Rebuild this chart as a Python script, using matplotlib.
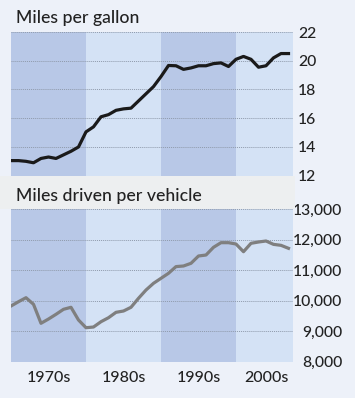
import matplotlib
matplotlib.use("Agg")
import matplotlib.pyplot as plt
from matplotlib import font_manager
from matplotlib.patches import Rectangle
from matplotlib.transforms import blended_transform_factory

years = list(range(1970, 2008))
mpg = [13.05, 13.05, 13.0, 12.9, 13.2, 13.3, 13.2, 13.45, 13.7, 14.0,
       15.05, 15.4, 16.1, 16.25, 16.55, 16.65, 16.7, 17.2, 17.7, 18.2,
       18.9, 19.67, 19.65, 19.4, 19.5, 19.65, 19.65, 19.8, 19.85, 19.6,
       20.1, 20.3, 20.1, 19.55, 19.65, 20.2, 20.5, 20.5]
miles = [9827, 9968, 10100, 9883, 9260, 9400, 9555, 9719, 9785, 9368,
         9115, 9138, 9312, 9443, 9620, 9663, 9785, 10080, 10352, 10572,
         10736, 10900, 11120, 11140, 11228, 11468, 11500, 11753, 11905, 11905,
         11861, 11609, 11884, 11927, 11960, 11850, 11818, 11720]
decades = ["1970s", "1980s", "1990s", "2000s"]
decade_spans = [(1970, 1980), (1980, 1990), (1990, 2000), (2000, 2007.6)]
decade_label_x = [1975, 1985, 1995, 2004]
mpg_ticks = [12, 14, 16, 18, 20, 22]
miles_ticks = [8000, 9000, 10000, 11000, 12000, 13000]
titles = ["Miles per gallon", "Miles driven per vehicle"]

avail = {f.name for f in font_manager.fontManager.ttflist}
def pick(cands):
    for c in cands:
        if c in avail:
            return c
    return "DejaVu Sans"
title_font = pick(["Lato", "Liberation Sans", "DejaVu Sans"])
num_font = pick(["Liberation Sans Narrow", "Lato", "Liberation Sans"])

W, H = 355, 398
BG = "#edf1f9"
DARK = "#b8c8e7"
LIGHT = "#d4e2f5"
GRAYBOX = "#edeff0"
TEXT = "#222222"
GRID = "#8f9aab"

fig = plt.figure(figsize=(W / 100, H / 100), dpi=100, facecolor=BG)

def px_axes(left, top, right, bottom):
    return fig.add_axes([left / W, 1 - bottom / H, (right - left) / W, (bottom - top) / H])

ax1 = px_axes(11, 32, 293, 175.7)
ax2 = px_axes(11, 209.3, 293, 361.7)

for ax in (ax1, ax2):
    ax.set_facecolor(LIGHT)
    for i, (a, b) in enumerate(decade_spans):
        ax.axvspan(a, b, color=DARK if i % 2 == 0 else LIGHT, lw=0, zorder=0)
    ax.set_xlim(1970, 2007.6)
    for s in ax.spines.values():
        s.set_visible(False)
    ax.set_xticks([])
    ax.yaxis.tick_right()
    ax.tick_params(axis="y", length=0, labelsize=11.3, labelcolor=TEXT)
    ax.grid(axis="y", color=GRID, linestyle=(0, (1, 1)), linewidth=0.7, zorder=1)

ax1.set_ylim(12, 22)
ax1.set_yticks(mpg_ticks)
ax1.set_yticklabels([str(t) for t in mpg_ticks], fontfamily=num_font, fontweight=500)
ax1.tick_params(axis="y", pad=3.6)
ax1.plot(years, mpg, color="#1a1a1a", lw=2.3, zorder=3, solid_joinstyle="round")

ax2.set_ylim(8000, 13000)
ax2.set_yticks(miles_ticks)
ax2.set_yticklabels([f"{t:,}" for t in miles_ticks], fontfamily=num_font, fontweight=500)
ax2.tick_params(axis="y", pad=35.3)
for lab in ax2.get_yticklabels():
    lab.set_horizontalalignment("right")
ax2.plot(years, miles, color="#7f7f7f", lw=2.3, zorder=3, solid_joinstyle="round")

tr = blended_transform_factory(ax2.transData, ax2.transAxes)
for x, lab in zip(decade_label_x, decades):
    ax2.text(x, -0.107, lab, transform=tr, ha="center", va="center",
             fontsize=11.5, fontfamily=num_font, fontweight=500, color=TEXT)

# gray title box for second panel
fig.patches.append(Rectangle((0, 1 - 208.5 / H), 295 / W, 32.5 / H,
                             transform=fig.transFigure, facecolor=GRAYBOX,
                             edgecolor="none", zorder=5))

fig.text(15.7 / W, 1 - 23.3 / H, titles[0], ha="left", va="baseline",
         fontsize=12.7, fontfamily=title_font, fontweight=500, color=TEXT)
fig.text(15.7 / W, 1 - 200.7 / H, titles[1], ha="left", va="baseline",
         fontsize=12.7, fontfamily=title_font, fontweight=500, color=TEXT, zorder=6)

fig.savefig("out.png", dpi=100, facecolor=BG)
